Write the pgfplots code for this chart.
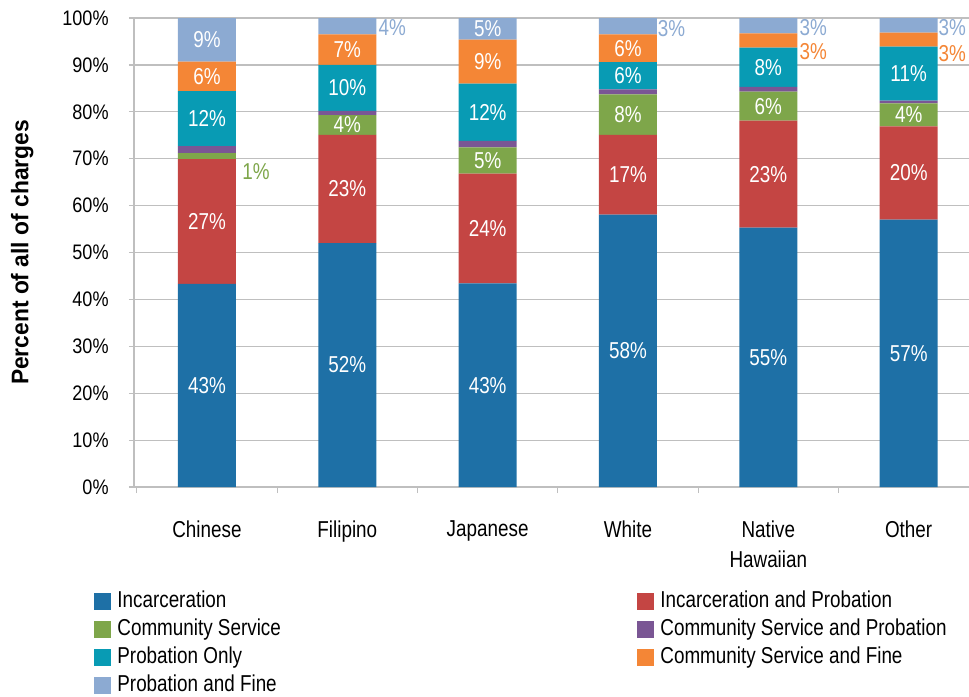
\documentclass[border=0pt]{standalone}
\usepackage{pgfplots}
\pgfplotsset{compat=1.18}
\usepackage{pgfplotstable}
\usepackage{fontspec}
\usetikzlibrary{calc}
\setmainfont{Liberation Sans}[FakeStretch=0.82]
\newfontfamily\tickfont{Liberation Sans}[FakeStretch=0.86]
\newfontfamily\labfont{Liberation Sans}[FakeStretch=0.95]
\definecolor{cInc}{HTML}{1E70A6}
\definecolor{cIP}{HTML}{C44543}
\definecolor{cCS}{HTML}{7EA64A}
\definecolor{cCSP}{HTML}{7A5694}
\definecolor{cPO}{HTML}{089BB4}
\definecolor{cCSF}{HTML}{F48636}
\definecolor{cPF}{HTML}{8CAAD2}
\definecolor{gridc}{HTML}{BFBFBF}
\pgfplotstableread{
x inc ip cs csp po csf pf
0 43.3 26.6 1.3 1.5 11.7 6.3 9.3
1 52.0 23.1 4.2 0.9 9.8 6.5 3.5
2 43.4 23.4 5.6 1.4 12.2 9.4 4.6
3 58.1 17.0 8.6 1.1 5.8 5.9 3.5
4 55.3 22.8 6.2 1.0 8.4 3.0 3.3
5 57.0 19.9 4.9 0.6 11.5 3.0 3.1
}\data
\pgfplotsset{sw/.style={legend image code/.code={\fill[##1,draw=none] (0pt,-4.25pt) rectangle (8.5pt,4.25pt);}}}
\tikzset{lab/.style={font=\fontsize{11.5}{13}\selectfont, text=white, inner sep=0pt},
         olab/.style={font=\fontsize{11.5}{13}\selectfont, inner sep=0pt, anchor=west}}
\begin{document}
\begin{tikzpicture}
\begin{axis}[
  name=ax,
  scale only axis,
  width=417.5pt, height=234.5pt,
  ybar stacked, bar width=29pt,
  xmin=-0.52, xmax=5.43,
  ymin=0, ymax=100,
  axis x line*=bottom, axis y line*=left,
  axis line style={gridc, line width=0.6pt},
  ytick={0,10,...,100},
  yticklabel={\pgfmathprintnumber{\tick}\%},
  /pgf/number format/assume math mode=true,
  yticklabel style={font=\tickfont\fontsize{10.5}{12}\selectfont, inner sep=0pt, anchor=east, xshift=-10pt},
  ytick style={gridc, line width=0.6pt},
  tick align=outside,
  major tick length=2.5pt,
  ymajorgrids, grid style={gridc, line width=0.6pt},
  xtick={0,...,5},
  xticklabels={Chinese,Filipino,Japanese,White,{Native\\Hawaiian},Other},
  xticklabel style={font=\fontsize{11.5}{15}\selectfont, align=center, inner sep=0pt, anchor=north, yshift=-14pt},
  xtick style={draw=none},
  extra x ticks={-0.5,0.5,1.5,2.5,3.5,4.5},
  extra x tick labels={},
  extra x tick style={xtick style={gridc, line width=0.6pt, draw=gridc}, major tick length=3pt, grid=none},
  ylabel={Percent of all of charges},
  every axis y label/.style={at={(axis description cs:-0.134,0.5)}, rotate=90, anchor=center, font=\labfont\bfseries\fontsize{12}{14}\selectfont},
  legend columns=2,
  legend style={draw=none, fill=none, at={(axis description cs:0,0)}, anchor=north west, xshift=-20pt, yshift=-51.5pt,
     font=\fontsize{11.5}{13}\selectfont, inner sep=0pt, row sep=3pt, column sep=3pt,
     nodes={inner sep=0pt, text height=8.5pt, text depth=2.5pt}},
  legend cell align=left,
  clip=false,
]
\addplot[fill=cInc, draw=none, sw] table[x=x, y=inc] {\data};
\addlegendentry{\makebox[257pt][l]{Incarceration}}
\addplot[fill=cIP, draw=none, sw] table[x=x, y=ip] {\data};
\addlegendentry{Incarceration and Probation}
\addplot[fill=cCS, draw=none, sw] table[x=x, y=cs] {\data};
\addlegendentry{\makebox[257pt][l]{Community Service}}
\addplot[fill=cCSP, draw=none, sw] table[x=x, y=csp] {\data};
\addlegendentry{Community Service and Probation}
\addplot[fill=cPO, draw=none, sw] table[x=x, y=po] {\data};
\addlegendentry{\makebox[257pt][l]{Probation Only}}
\addplot[fill=cCSF, draw=none, sw] table[x=x, y=csf] {\data};
\addlegendentry{Community Service and Fine}
\addplot[fill=cPF, draw=none, sw] table[x=x, y=pf] {\data};
\addlegendentry{Probation and Fine}
\end{axis}
\begin{axis}[
  scale only axis,
  width=417.5pt, height=234.5pt,
  xmin=-0.52, xmax=5.43,
  ymin=0, ymax=100,
  hide axis, clip=false,
]
\node[lab] at (axis cs:0,21.65) {43\%};
\node[lab] at (axis cs:0,56.6) {27\%};
\node[lab] at (axis cs:0,78.55) {12\%};
\node[lab] at (axis cs:0,87.55) {6\%};
\node[lab] at (axis cs:0,95.35) {9\%};
\node[olab, text=cCS] at (axis cs:0.25,67.2) {1\%};
\node[lab] at (axis cs:1,26) {52\%};
\node[lab] at (axis cs:1,63.55) {23\%};
\node[lab] at (axis cs:1,77.2) {4\%};
\node[lab] at (axis cs:1,85.1) {10\%};
\node[lab] at (axis cs:1,93.25) {7\%};
\node[olab, text=cPF] at (axis cs:1.22,98.0) {4\%};
\node[lab] at (axis cs:2,21.7) {43\%};
\node[lab] at (axis cs:2,55.1) {24\%};
\node[lab] at (axis cs:2,69.6) {5\%};
\node[lab] at (axis cs:2,79.9) {12\%};
\node[lab] at (axis cs:2,90.7) {9\%};
\node[lab] at (axis cs:2,97.7) {5\%};
\node[lab] at (axis cs:3,29.05) {58\%};
\node[lab] at (axis cs:3,66.6) {17\%};
\node[lab] at (axis cs:3,79.4) {8\%};
\node[lab] at (axis cs:3,87.7) {6\%};
\node[lab] at (axis cs:3,93.55) {6\%};
\node[olab, text=cPF] at (axis cs:3.21,97.8) {3\%};
\node[lab] at (axis cs:4,27.65) {55\%};
\node[lab] at (axis cs:4,66.7) {23\%};
\node[lab] at (axis cs:4,81.2) {6\%};
\node[lab] at (axis cs:4,89.5) {8\%};
\node[olab, text=cPF] at (axis cs:4.22,98.0) {3\%};
\node[olab, text=cCSF] at (axis cs:4.22,92.9) {3\%};
\node[lab] at (axis cs:5,28.5) {57\%};
\node[lab] at (axis cs:5,66.95) {20\%};
\node[lab] at (axis cs:5,79.35) {4\%};
\node[lab] at (axis cs:5,88.15) {11\%};
\node[olab, text=cPF] at (axis cs:5.21,98.0) {3\%};
\node[olab, text=cCSF] at (axis cs:5.21,92.4) {3\%};
\end{axis}
\pgfresetboundingbox
\path ($(ax.south west)+(-67pt,-104.5pt)$) rectangle ($(ax.north east)+(0pt,9pt)$);
\end{tikzpicture}
\end{document}
